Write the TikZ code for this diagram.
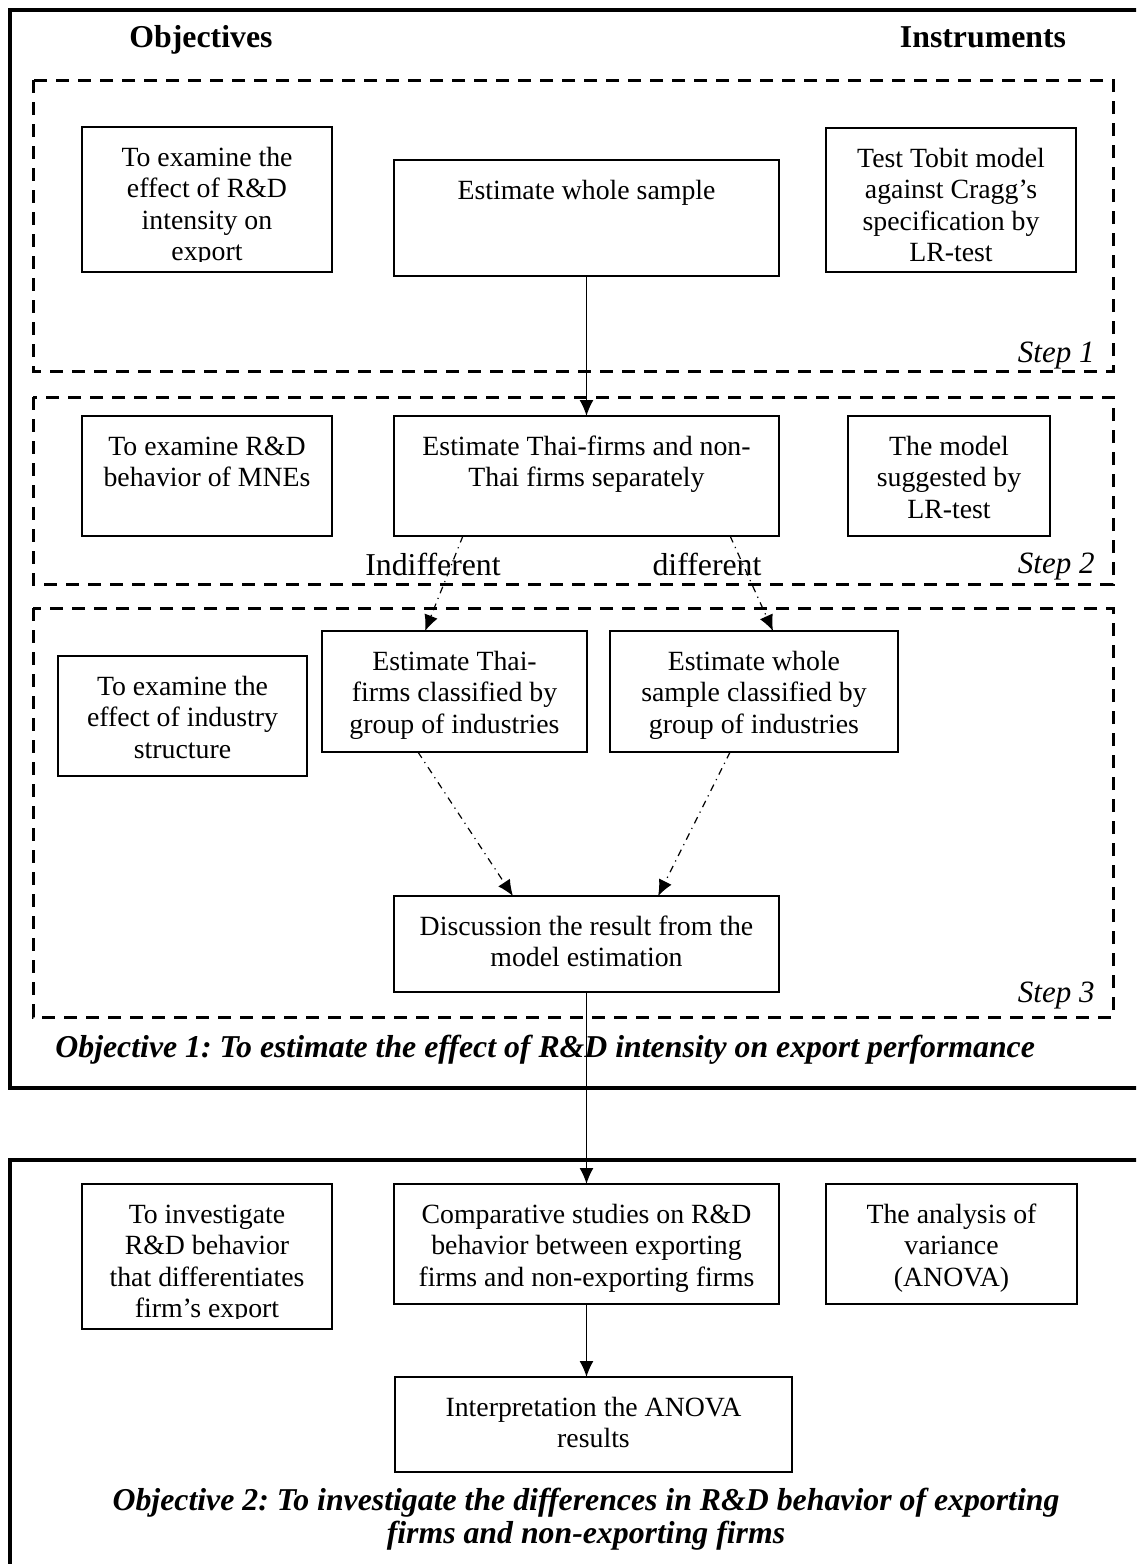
\documentclass[tikz,border=0pt]{standalone}
\usepackage{fontspec}
\setmainfont{Liberation Serif}
\usetikzlibrary{arrows.meta,calc}
\frenchspacing
\tikzset{
 frame/.style={draw, line width=2pt},
 stepbox/.style={draw, line width=1.5pt, dash pattern=on 6.5pt off 4.5pt},
 box/.style={draw, line width=0.75pt, inner sep=0pt, outer sep=0pt},
 txt/.style={inner sep=0pt, align=center, font=\fontsize{13.9}{15.75}\selectfont},
 arr/.style={line width=0.75pt, -{Latex[length=8pt,width=7pt]}},
 dd/.style={line width=0.6pt, dash pattern=on 3.5pt off 2.5pt on 0.6pt off 2.5pt, -{Latex[length=8pt,width=7pt]}},
 steplabel/.style={inner sep=0pt, font=\fontsize{15.5}{18}\selectfont\itshape},
 head/.style={inner sep=0pt, font=\fontsize{15.9}{18}\selectfont\bfseries},
 obj/.style={inner sep=0pt, align=center, font=\fontsize{15.9}{16.5}\selectfont\bfseries\itshape},
 lab/.style={inner sep=0pt, font=\fontsize{15.9}{18}\selectfont},
}
\newcommand\flowbox[6]{%
 \node[box, minimum width={(#4-#2)*0.5pt}, minimum height={(#5-#3)*0.5pt}] (#1) at ({(#2+#4)/2},{(#3+#5)/2}) {};
 \node[txt, anchor=north] (#1t) at ([yshift=-8.5pt]#1.north) {\rule{0pt}{11pt}#6};
}
\newcommand\flowboxclip[7]{%
 \node[box, minimum width={(#4-#2)*0.5pt}, minimum height={(#5-#3)*0.5pt}] (#1) at ({(#2+#4)/2},{(#3+#5)/2}) {};
 \begin{scope}
 \clip (#2,#3) rectangle (#4,#7);
 \node[txt, anchor=north] (#1t) at ([yshift=-8.5pt]#1.north) {\rule{0pt}{11pt}#6};
 \end{scope}
}
\begin{document}
\begin{tikzpicture}[x=0.5pt,y=-0.5pt]
\useasboundingbox (0,0) rectangle (1136,1564);
\clip (0,0) rectangle (1136,1564);
% frames
\draw[frame] (10,10) rectangle (1160,1088);
\draw[frame] (10,1160) rectangle (1160,1600);
% step boxes
\draw[stepbox] (33,80) rectangle (1113,371);
\draw[stepbox] (33,397) rectangle (1113,584);
\draw[stepbox] (33,608) rectangle (1113,1017);
% headings
\node[head, anchor=base] (hobj) at (201,47) {Objectives};
\node[head, anchor=base] (hins) at (983,47) {Instruments};
% step labels
\node[steplabel, anchor=base east] (s1) at (1095,362) {Step 1};
\node[steplabel, anchor=base east] (s2) at (1095,573) {Step 2};
\node[steplabel, anchor=base east] (s3) at (1095,1002) {Step 3};
% step 1
\flowboxclip{A1}{82}{127}{332}{272}{To examine the\\effect of R\&D\\intensity on\\export}{261}
\flowbox{M1}{394}{160}{779}{276}{Estimate whole sample}
\flowbox{I1}{826}{128}{1076}{272}{Test Tobit model\\against Cragg's\\specification by\\LR-test}
% step 2
\flowbox{A2}{82}{416}{332}{536}{To examine R\&D\\behavior of MNEs}
\flowbox{M2}{394}{416}{779}{536}{Estimate Thai-firms and non-\\Thai firms separately}
\flowbox{I2}{848}{416}{1050}{536}{The model\\suggested by\\LR-test}
% step 3
\flowbox{A3}{58}{656}{307}{776}{To examine the\\effect of industry\\structure}
\flowbox{B3}{322}{631}{587}{752}{Estimate Thai-\\firms classified by\\group of industries}
\flowbox{C3}{610}{631}{898}{752}{Estimate whole\\sample classified by\\group of industries}
\flowbox{D3}{394}{896}{779}{992}{Discussion the result from the\\model estimation}
% objective 2
\flowboxclip{A4}{82}{1184}{332}{1329}{To investigate\\R\&D behavior\\that differentiates\\firm's export}{1318}
\flowbox{M4}{394}{1184}{779}{1304}{Comparative studies on R\&D\\behavior between exporting\\firms and non-exporting firms}
\flowbox{I4}{826}{1184}{1077}{1304}{The analysis of\\variance\\(ANOVA)}
\flowbox{M5}{395}{1377}{792}{1472}{Interpretation the ANOVA\\results}
% labels
\node[lab, anchor=base] (lind) at (433,575) {Indifferent};
\node[lab, anchor=base] (ldif) at (707,575) {different};
% objective texts
\node[obj, anchor=base west] (o1) at (55,1057) {Objective 1: To estimate the effect of R\&D intensity on export performance};
\node[obj, anchor=north] (o2) at (586,1486) {\rule{0pt}{12pt}Objective 2: To investigate the differences in R\&D behavior of exporting\\firms and non-exporting firms};
% connectors
\draw[arr] (M1.south) -- (M2.north);
\draw[dd] ($(M2.south west)!0.179!(M2.south east)$) -- ($(B3.north west)!0.389!(B3.north east)$);
\draw[dd] ($(M2.south west)!0.873!(M2.south east)$) -- ($(C3.north west)!0.566!(C3.north east)$);
\draw[dd] ($(B3.south west)!0.362!(B3.south east)$) -- ($(D3.north west)!0.309!(D3.north east)$);
\draw[dd] ($(C3.south west)!0.417!(C3.south east)$) -- ($(D3.north west)!0.686!(D3.north east)$);
\draw[arr] (D3.south) -- (M4.north);
\draw[arr] (M4.south) -- (M4.south |- M5.north);
\end{tikzpicture}
\end{document}
